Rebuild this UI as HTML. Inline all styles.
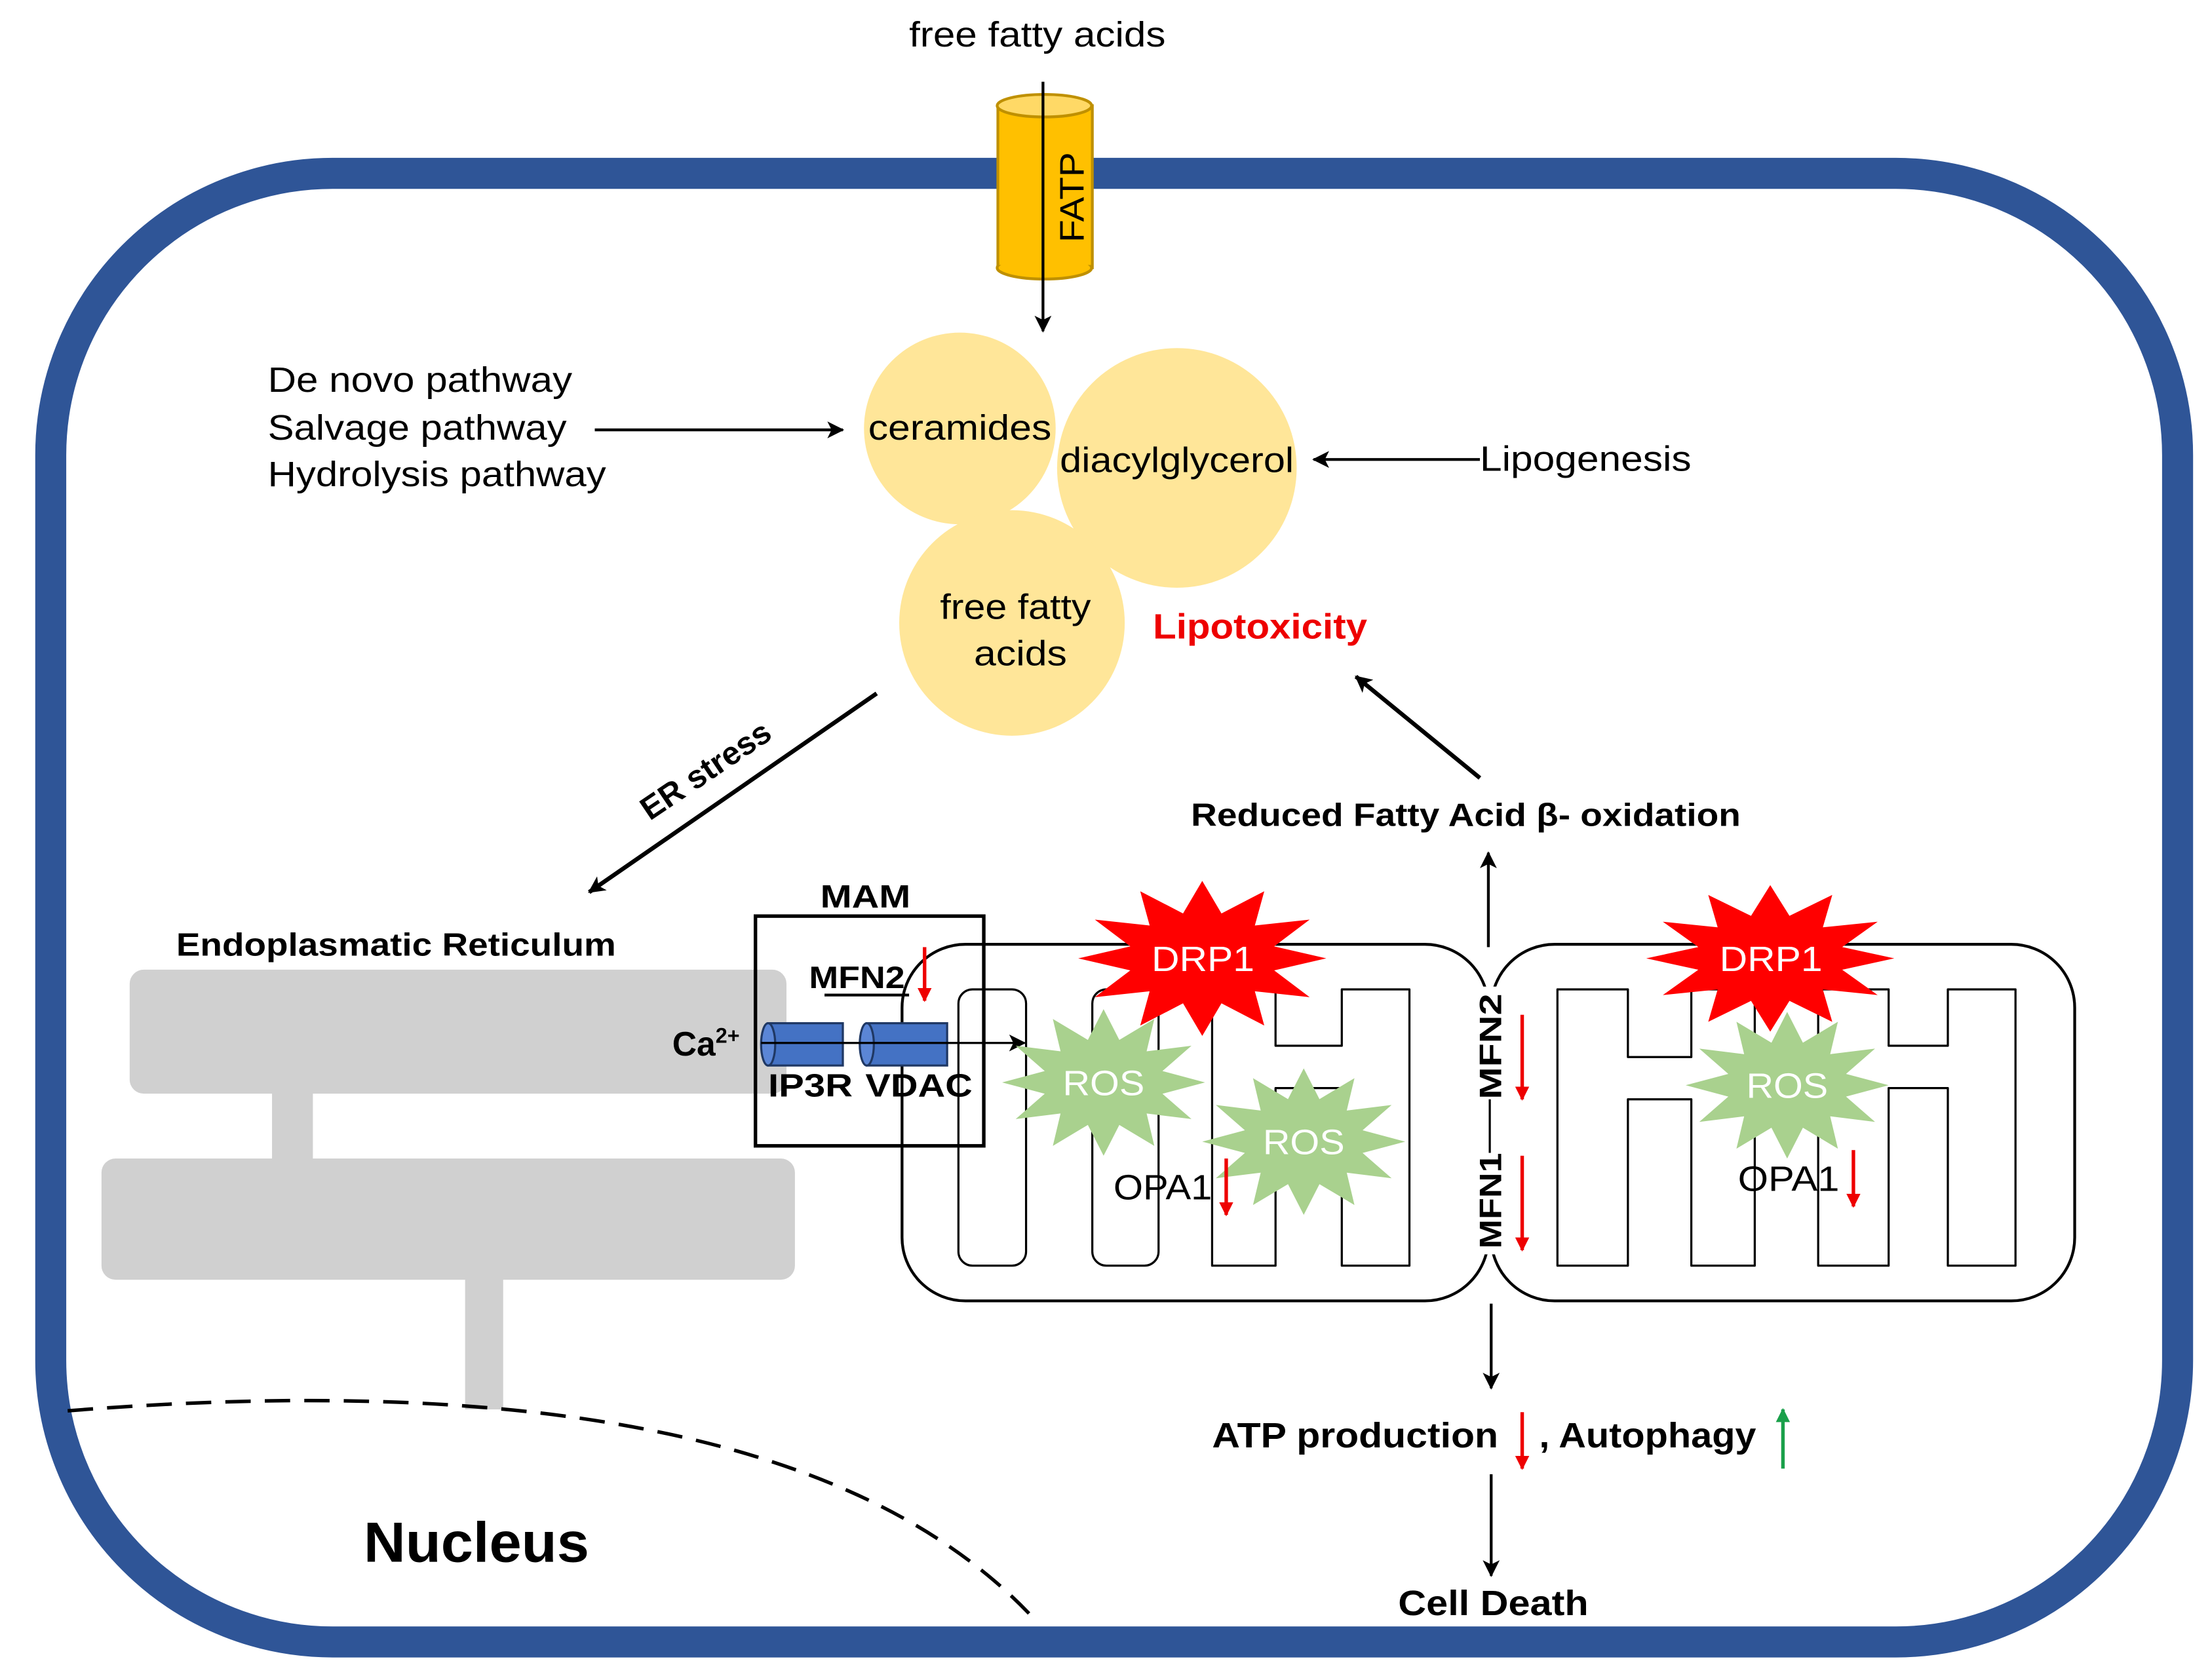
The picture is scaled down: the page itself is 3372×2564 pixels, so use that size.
<!DOCTYPE html>
<html><head><meta charset="utf-8"><style>
html,body{margin:0;padding:0;background:#fff;}
svg{display:block;}
text{font-family:"Liberation Sans",sans-serif;}
</style></head><body>
<svg width="3372" height="2564" viewBox="0 0 1568 1192" preserveAspectRatio="none" xmlns="http://www.w3.org/2000/svg">
<defs>
<marker id="ahs" markerWidth="12" markerHeight="12" refX="11" refY="6" orient="auto" markerUnits="userSpaceOnUse"><path d="M0,0 L12,6 L0,12 L3,6 Z" fill="#000"/></marker>
<marker id="ar" markerWidth="10" markerHeight="10" refX="9" refY="5" orient="auto" markerUnits="userSpaceOnUse"><path d="M0,0 L10,5 L0,10 Z" fill="#e00"/></marker>
<marker id="ag" markerWidth="10" markerHeight="10" refX="9" refY="5" orient="auto" markerUnits="userSpaceOnUse"><path d="M0,0 L10,5 L0,10 Z" fill="#1aa04a"/></marker>
<polygon id="star" points="1,0 0.58,0.155 0.866,0.5 0.424,0.424 0.5,0.866 0.155,0.58 0,1 -0.155,0.58 -0.5,0.866 -0.424,0.424 -0.866,0.5 -0.58,0.155 -1,0 -0.58,-0.155 -0.866,-0.5 -0.424,-0.424 -0.5,-0.866 -0.155,-0.58 0,-1 0.155,-0.58 0.5,-0.866 0.424,-0.424 0.866,-0.5 0.58,-0.155"/>
</defs>
<rect x="36" y="123" width="1509" height="1042" rx="200" ry="200" fill="none" stroke="#2f5597" stroke-width="22"/>
<text x="645" y="33" font-size="25" textLength="182" lengthAdjust="spacingAndGlyphs">free fatty acids</text>
<rect x="708" y="75" width="67" height="115" fill="#ffc000" stroke="#bf9000" stroke-width="2"/>
<ellipse cx="741" cy="190" rx="33.5" ry="8" fill="#ffc000" stroke="#bf9000" stroke-width="2"/>
<rect x="709" y="76" width="65" height="112" fill="#ffc000"/>
<ellipse cx="741" cy="75" rx="33.5" ry="8" fill="#ffd966" stroke="#bf9000" stroke-width="2"/>
<text transform="translate(769,172) rotate(-90)" font-size="24" textLength="64" lengthAdjust="spacingAndGlyphs">FATP</text>
<line x1="740" y1="58" x2="740" y2="235" stroke="#000" stroke-width="2" marker-end="url(#ahs)"/>
<circle cx="681" cy="304" r="68" fill="#ffe699"/>
<circle cx="835" cy="332" r="85" fill="#ffe699"/>
<circle cx="718" cy="442" r="80" fill="#ffe699"/>
<text x="616" y="312" font-size="25" textLength="130" lengthAdjust="spacingAndGlyphs">ceramides</text>
<text x="752" y="335" font-size="25" textLength="166" lengthAdjust="spacingAndGlyphs">diacylglycerol</text>
<text x="667" y="439" font-size="25" textLength="107" lengthAdjust="spacingAndGlyphs">free fatty</text>
<text x="691" y="472" font-size="25" textLength="66" lengthAdjust="spacingAndGlyphs">acids</text>
<text x="190" y="278" font-size="25" textLength="216" lengthAdjust="spacingAndGlyphs">De novo pathway</text>
<text x="190" y="312" font-size="25" textLength="212" lengthAdjust="spacingAndGlyphs">Salvage pathway</text>
<text x="190" y="345" font-size="25" textLength="240" lengthAdjust="spacingAndGlyphs">Hydrolysis pathway</text>
<line x1="422" y1="305" x2="598" y2="305" stroke="#000" stroke-width="2" marker-end="url(#ahs)"/>
<line x1="1050" y1="326" x2="932" y2="326" stroke="#000" stroke-width="2" marker-end="url(#ahs)"/>
<text x="1050" y="334" font-size="25" textLength="150" lengthAdjust="spacingAndGlyphs">Lipogenesis</text>
<text x="818" y="453" font-size="25" font-weight="bold" fill="#e00" textLength="152" lengthAdjust="spacingAndGlyphs">Lipotoxicity</text>
<line x1="1050" y1="552" x2="962" y2="480" stroke="#000" stroke-width="3" marker-end="url(#ahs)"/>
<text x="845" y="586" font-size="23" font-weight="bold" textLength="390" lengthAdjust="spacingAndGlyphs">Reduced Fatty Acid β- oxidation</text>
<line x1="1056" y1="672" x2="1056" y2="605" stroke="#000" stroke-width="2" marker-end="url(#ahs)"/>
<line x1="622" y1="492" x2="418" y2="633" stroke="#000" stroke-width="3" marker-end="url(#ahs)"/>
<text transform="translate(505,553) rotate(-34)" font-size="23" font-weight="bold" text-anchor="middle">ER stress</text>
<text x="125" y="678" font-size="23" font-weight="bold" textLength="312" lengthAdjust="spacingAndGlyphs">Endoplasmatic Reticulum</text>
<rect x="92" y="688" width="466" height="88" rx="10" fill="#d0d0d0"/>
<rect x="193" y="770" width="29" height="56" fill="#d0d0d0"/>
<rect x="72" y="822" width="492" height="86" rx="10" fill="#d0d0d0"/>
<rect x="330" y="905" width="27" height="95" fill="#d0d0d0"/>
<path d="M48,1001 Q560,960 735,1150" fill="none" stroke="#000" stroke-width="2.5" stroke-dasharray="18,10"/>
<text x="258" y="1108" font-size="40" font-weight="bold" textLength="160" lengthAdjust="spacingAndGlyphs">Nucleus</text>
<rect x="640" y="670" width="416" height="253" rx="45" fill="#fff" stroke="#000" stroke-width="2"/>
<rect x="1058" y="670" width="414" height="253" rx="45" fill="#fff" stroke="#000" stroke-width="2"/>
<g fill="none" stroke="#000" stroke-width="1.5" stroke-linejoin="round">
<rect x="680" y="702" width="48" height="196" rx="10"/>
<rect x="775" y="702" width="47" height="196" rx="10"/>
<path d="M860,702 H905 V742 H952 V702 H1000 V898 H952 V772 H905 V898 H860 Z"/>
<path d="M1105,702 H1155 V750 H1200 V702 H1245 V898 H1200 V780 H1155 V898 H1105 Z"/>
<path d="M1290,702 H1340 V742 H1382 V702 H1430 V898 H1382 V772 H1340 V898 H1290 Z"/>
</g>
<rect x="536" y="650" width="162" height="163" fill="none" stroke="#000" stroke-width="2.5"/>
<text x="582" y="644" font-size="23" font-weight="bold" textLength="64" lengthAdjust="spacingAndGlyphs">MAM</text>
<text x="574" y="701" font-size="22" font-weight="bold" textLength="68" lengthAdjust="spacingAndGlyphs">MFN2</text>
<line x1="585" y1="706" x2="645" y2="706" stroke="#000" stroke-width="2"/>
<line x1="656" y1="672" x2="656" y2="710" stroke="#e00" stroke-width="2.5" marker-end="url(#ar)"/>
<text x="477" y="749" font-size="24" font-weight="bold">Ca<tspan font-size="15" dy="-9">2+</tspan></text>
<g stroke="#1f3864" stroke-width="1.5">
<rect x="545" y="726" width="53" height="30" fill="#4472c4"/>
<ellipse cx="545" cy="741" rx="5" ry="15" fill="#5b86d6"/>
<rect x="615" y="726" width="57" height="30" fill="#4472c4"/>
<ellipse cx="615" cy="741" rx="5" ry="15" fill="#5b86d6"/>
</g>
<line x1="540" y1="740" x2="727" y2="740" stroke="#000" stroke-width="1.5" marker-end="url(#ahs)"/>
<text x="545" y="778" font-size="23" font-weight="bold" textLength="60" lengthAdjust="spacingAndGlyphs">IP3R</text>
<text x="614" y="778" font-size="23" font-weight="bold" textLength="76" lengthAdjust="spacingAndGlyphs">VDAC</text>
<use href="#star" transform="translate(853,680) scale(88,55)" fill="#ff0000"/>
<use href="#star" transform="translate(1256,680) scale(88,52)" fill="#ff0000"/>
<text x="817" y="689" font-size="25" fill="#fff" textLength="73" lengthAdjust="spacingAndGlyphs">DRP1</text>
<text x="1220" y="689" font-size="25" fill="#fff" textLength="73" lengthAdjust="spacingAndGlyphs">DRP1</text>
<use href="#star" transform="translate(783,768) scale(72,52)" fill="#a9d18e"/>
<use href="#star" transform="translate(925,810) scale(72,52)" fill="#a9d18e"/>
<use href="#star" transform="translate(1268,770) scale(72,52)" fill="#a9d18e"/>
<text x="754" y="777" font-size="25" fill="#fff" textLength="58" lengthAdjust="spacingAndGlyphs">ROS</text>
<text x="896" y="819" font-size="25" fill="#fff" textLength="58" lengthAdjust="spacingAndGlyphs">ROS</text>
<text x="1239" y="779" font-size="25" fill="#fff" textLength="58" lengthAdjust="spacingAndGlyphs">ROS</text>
<text x="790" y="851" font-size="25" textLength="70" lengthAdjust="spacingAndGlyphs">OPA1</text>
<line x1="870" y1="822" x2="870" y2="862" stroke="#e00" stroke-width="2.5" marker-end="url(#ar)"/>
<text x="1233" y="845" font-size="25" textLength="72" lengthAdjust="spacingAndGlyphs">OPA1</text>
<line x1="1315" y1="816" x2="1315" y2="856" stroke="#e00" stroke-width="2.5" marker-end="url(#ar)"/>
<rect x="1044" y="700" width="26" height="190" fill="#fff"/>
<text transform="translate(1065,780) rotate(-90)" font-size="22" font-weight="bold" textLength="75" lengthAdjust="spacingAndGlyphs">MFN2</text>
<line x1="1057" y1="780" x2="1057" y2="818" stroke="#000" stroke-width="1.5"/>
<text transform="translate(1065,886) rotate(-90)" font-size="22" font-weight="bold" textLength="68" lengthAdjust="spacingAndGlyphs">MFN1</text>
<line x1="1080" y1="720" x2="1080" y2="780" stroke="#e00" stroke-width="2.5" marker-end="url(#ar)"/>
<line x1="1080" y1="820" x2="1080" y2="887" stroke="#e00" stroke-width="2.5" marker-end="url(#ar)"/>
<line x1="1058" y1="925" x2="1058" y2="985" stroke="#000" stroke-width="2" marker-end="url(#ahs)"/>
<text x="860" y="1027" font-size="25" font-weight="bold" textLength="203" lengthAdjust="spacingAndGlyphs">ATP production</text>
<line x1="1080" y1="1002" x2="1080" y2="1042" stroke="#e00" stroke-width="2.5" marker-end="url(#ar)"/>
<text x="1092" y="1027" font-size="25" font-weight="bold" textLength="154" lengthAdjust="spacingAndGlyphs">, Autophagy</text>
<line x1="1265" y1="1042" x2="1265" y2="1000" stroke="#1aa04a" stroke-width="2.5" marker-end="url(#ag)"/>
<line x1="1058" y1="1046" x2="1058" y2="1118" stroke="#000" stroke-width="2" marker-end="url(#ahs)"/>
<text x="992" y="1146" font-size="25" font-weight="bold" textLength="135" lengthAdjust="spacingAndGlyphs">Cell Death</text>
</svg>
</body></html>
